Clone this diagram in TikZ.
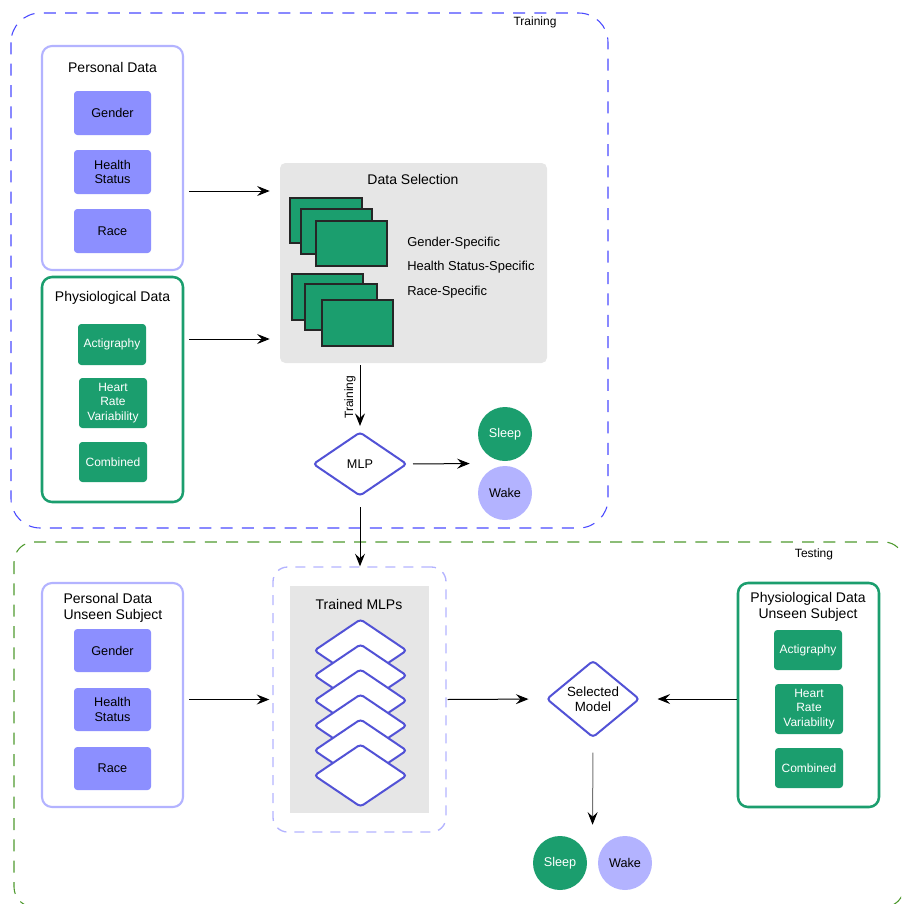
\documentclass[tikz,border=0pt]{standalone}
\usepackage{fontspec}
\setmainfont{Liberation Sans}
\usetikzlibrary{shapes.geometric,arrows.meta,calc}
\definecolor{lpurp}{HTML}{B3B3FF}
\definecolor{mpurp}{HTML}{8C8FFF}
\definecolor{grn}{HTML}{1B9E6E}
\definecolor{dstroke}{HTML}{5252D6}
\definecolor{gbg}{HTML}{E6E6E6}
\definecolor{trainc}{HTML}{4A4AFF}
\definecolor{testc}{HTML}{4E9A2E}
\tikzset{
  sz/.style args={#1/#2}{minimum width=#1*0.75pt,minimum height=#2*0.75pt},
  outerpd/.style={draw=lpurp,line width=1.6pt,rounded corners=7.5pt,fill=white,inner sep=0pt},
  outerph/.style={draw=grn,line width=1.9pt,rounded corners=7.5pt,fill=white,inner sep=0pt},
  pbox/.style={fill=mpurp,rounded corners=2.5pt,align=center,font=\fontsize{9.5}{11}\selectfont,inner sep=0pt},
  gbox/.style={fill=grn,rounded corners=2.5pt,align=center,text=white,font=\fontsize{9}{10.8}\selectfont,inner sep=0pt},
  title/.style={font=\fontsize{10.5}{12.5}\selectfont,align=center,inner sep=0pt},
  stackrect/.style={draw=black!85,fill=grn,line width=0.8pt,inner sep=0pt},
  dmd/.style={diamond,draw=dstroke,line width=1.5pt,rounded corners=2.5pt,fill=white,inner sep=0pt,sz=94/64,align=center,font=\fontsize{9.5}{11}\selectfont},
  circ/.style={circle,inner sep=0pt,minimum size=54*0.75pt,font=\fontsize{9.5}{11}\selectfont},
  arr/.style={-{Stealth[length=9.5pt,width=7.5pt,inset=3.5pt,color=black]},line width=0.75pt,black},
  lbl/.style={font=\fontsize{9.7}{11}\selectfont,inner sep=0pt,anchor=west},
}
\begin{document}
\begin{tikzpicture}[x=0.75pt,y=-0.75pt]
\useasboundingbox (0,0) rectangle (901,904);
\clip (0,0) rectangle (901,904);
% outer frames
\draw[trainc,line width=0.8pt,dash pattern=on 9pt off 7pt,rounded corners=22pt] (11,13) rectangle (608,528);
\node[font=\fontsize{9}{10}\selectfont,inner sep=0pt] (trl) at (535,22) {Training};
\draw[testc,line width=0.8pt,dash pattern=on 9pt off 7pt,rounded corners=15pt] (14,542) rectangle (904,907);
\node[font=\fontsize{9}{10}\selectfont,inner sep=0pt] (tsl) at (814,554) {Testing};

% Personal data (training)
\node[outerpd,sz=141/224] (pd) at (112.5,158) {};
\node[title] (pdt) at (112.5,67) {Personal Data};
\node[pbox,sz=77/44] (pdg) at (112.5,113) {Gender};
\node[pbox,sz=77/44] (pdh) at (112.5,172) {Health\\Status};
\node[pbox,sz=77/44] (pdr) at (112.5,231) {Race};

% Physiological data (training)
\node[outerph,sz=141/225] (ph) at (112.5,389.5) {};
\node[title] (pht) at (112.5,298) {Physiological Data};
\node[gbox,sz=68/41] (pha) at (112,344.5) {Actigraphy};
\node[gbox,sz=68/50] (phh) at (113,403) {Heart\\Rate\\Variability};
\node[gbox,sz=68/40] (phc) at (113,462) {Combined};

% Data selection
\node[fill=gbg,rounded corners=4pt,sz=267/200,inner sep=0pt] (ds) at (413.5,263) {};
\node[title] (dst) at (413,179) {Data Selection};
\node[stackrect,sz=72/45] (r1) at (326,220.5) {};
\node[stackrect,sz=71/45] (r2) at (336.5,231.5) {};
\node[stackrect,sz=71/45] (r3) at (351.5,243.5) {};
\node[stackrect,sz=71/46] (r4) at (327.5,297) {};
\node[stackrect,sz=72/46] (r5) at (341,307) {};
\node[stackrect,sz=71/46] (r6) at (357.5,323) {};
\node[lbl] (l1) at (407,243) {Gender-Specific};
\node[lbl] (l2) at (407,267) {Health Status-Specific};
\node[lbl] (l3) at (407,292) {Race-Specific};

\draw[arr] ($(pd.east)+(5,33)$) -- ($(ds.west)+(-10,-72)$);
\draw[arr] ($(ph.east)+(5,-50.5)$) -- ($(ds.west)+(-10,76)$);

% MLP
\node[dmd] (mlp) at (360,464) {MLP};
\node[circ,fill=grn,text=white] (sl1) at (505,434) {Sleep};
\node[circ,fill=lpurp] (wk1) at (505,493) {Wake};
\draw[arr,shorten <=1.5pt,shorten >=3.75pt] (mlp.north |- ds.south) -- node[midway,rotate=90,anchor=south,font=\fontsize{9}{10}\selectfont,inner sep=3pt] {Training} (mlp.north);
\draw[arr,shorten <=3.75pt,shorten >=6pt] (mlp.east) -- ($(sl1.west)!0.5!(wk1.west)$);

% Trained MLPs
\node[draw=lpurp,line width=1pt,dash pattern=on 7.5pt off 6pt,rounded corners=11pt,sz=173/265,inner sep=0pt] (tm) at (359.5,699.5) {};
\node[fill=gbg,sz=139/227,inner sep=0pt] (tmg) at (359.5,699.5) {};
\node[title] (tmt) at (359,604) {Trained MLPs};
\foreach \k in {0,...,5}{
  \node[dmd,sz=93/63] (tmd\k) at (360.5,650.5+25*\k) {};
}
\draw[arr,shorten <=7.5pt] (mlp.south) -- (mlp.south |- tm.north);

% Personal data unseen
\node[outerpd,sz=141/224] (pu) at (112.5,695) {};
\node[title,align=left] (put) at (113,608) {Personal Data\\Unseen Subject};
\node[pbox,sz=77/43] (pug) at (112.5,650.5) {Gender};
\node[pbox,sz=77/43] (puh) at (112.5,709.5) {Health\\Status};
\node[pbox,sz=77/43] (pur) at (112.5,768.5) {Race};

% Physiological unseen
\node[outerph,sz=141/224] (phu) at (808.5,695) {};
\node[title] (phut) at (808,607) {Physiological Data\\Unseen Subject};
\node[gbox,sz=68/40] (phua) at (808,650) {Actigraphy};
\node[gbox,sz=68/50] (phuh) at (809,709) {Heart\\Rate\\Variability};
\node[gbox,sz=68/40] (phuc) at (809,768) {Combined};

% Selected model
\node[dmd,sz=93/64,font=\fontsize{10}{11.5}\selectfont] (sel) at (593,699) {Selected\\Model};
\node[circ,fill=grn,text=white] (sl2) at (560,863) {Sleep};
\node[circ,fill=lpurp] (wk2) at (625,863) {Wake};

\draw[arr,shorten <=3.75pt,shorten >=2.25pt] (pu.east |- tm.west) -- (tm.west);
\draw[arr,shorten <=0.75pt,shorten >=12.75pt] (tm.east) -- (sel.west);
\draw[arr,shorten >=12.75pt] (phu.west |- sel.east) -- (sel.east);
\draw[arr,draw=black!55,shorten <=10.5pt,shorten >=8.25pt] (sel.south) -- ($(sl2.north)!0.5!(wk2.north)$);
\end{tikzpicture}
\end{document}
